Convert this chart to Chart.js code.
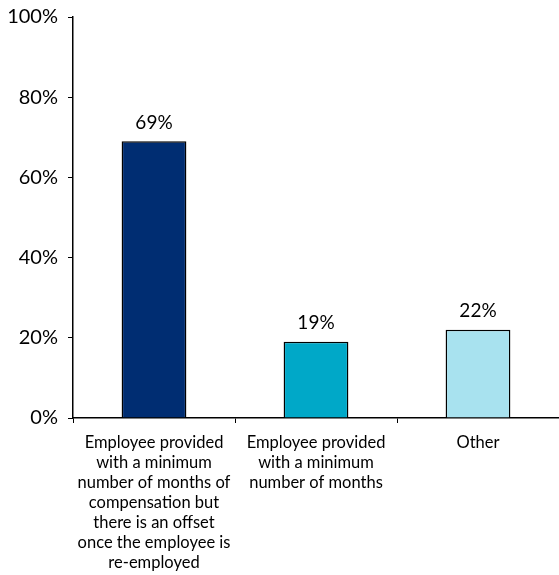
<!DOCTYPE html>
<html>
<head>
<meta charset="utf-8">
<script src="https://cdn.jsdelivr.net/npm/chart.js@4/dist/chart.umd.min.js"></script>
<style>
  html, body { margin: 0; padding: 0; background: #fff; }
  #wrap { width: 559px; height: 575px; overflow: hidden; }
  #chart { display: block; margin-top: -5px; }
</style>
</head>
<body>
<div id="wrap"><canvas id="chart" width="559" height="580"></canvas></div>
<script>
// categorie (etichette su più righe) e valori in percentuale
const categories = [
  ['Employee provided', 'with a minimum', 'number of months of', 'compensation but', 'there is an offset', 'once the employee is', 're-employed'],
  ['Employee provided', 'with a minimum', 'number of months'],
  ['Other']
];
const values = [69, 19, 22];
const barColors = ['#002D72', '#00A8C8', '#A8E2EF'];
const yTicks = [0, 20, 40, 60, 80, 100];

const FONT = "Lato, sans-serif";

// etichette sopra le barre
const valueLabels = {
  id: 'valueLabels',
  afterDatasetsDraw(chart) {
    const ctx = chart.ctx;
    const meta = chart.getDatasetMeta(0);
    ctx.save();
    ctx.font = '19px ' + FONT;
    ctx.fillStyle = '#000';
    ctx.textAlign = 'center';
    ctx.textBaseline = 'bottom';
    meta.data.forEach((bar, i) => {
      ctx.fillText(values[i] + '%', bar.x, bar.y - 9);
    });
    ctx.restore();
  }
};

new Chart(document.getElementById('chart'), {
  type: 'bar',
  data: {
    labels: categories,
    datasets: [{
      data: values,
      backgroundColor: barColors,
      borderColor: '#000',
      borderWidth: 1.5,
      borderSkipped: 'bottom',
      categoryPercentage: 1,
      barPercentage: 0.4
    }]
  },
  options: {
    responsive: false,
    animation: false,
    layout: { padding: 0 },
    plugins: {
      legend: { display: false },
      tooltip: { enabled: false }
    },
    scales: {
      x: {
        offset: true,
        afterFit(axis) { axis.height = 157; },
        border: { color: '#000', width: 1.5 },
        grid: { offset: true, drawOnChartArea: false, tickLength: 5, color: '#000', lineWidth: 1 },
        ticks: {
          color: '#000',
          font: { family: FONT, size: 16.5, lineHeight: 1.21 },
          padding: 10,
          maxRotation: 0,
          autoSkip: false
        }
      },
      y: {
        min: 0,
        max: 100,
        afterFit(axis) { axis.width = 73; },
        afterBuildTicks(axis) { axis.ticks = yTicks.map(v => ({ value: v })); },
        border: { color: '#000', width: 1.5 },
        grid: { drawOnChartArea: false, tickLength: 5, color: '#000', lineWidth: 1 },
        ticks: {
          color: '#000',
          font: { family: FONT, size: 20 },
          padding: 10,
          callback: v => v + '%'
        }
      }
    }
  },
  plugins: [valueLabels]
});
</script>
</body>
</html>
